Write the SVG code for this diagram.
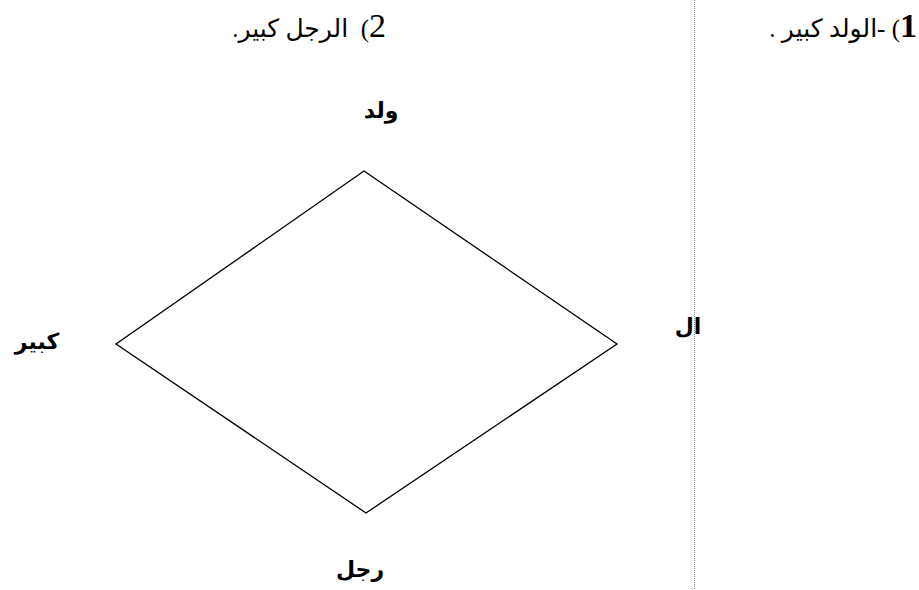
<svg xmlns="http://www.w3.org/2000/svg" width="919" height="590" viewBox="0 0 919 590">
<style>
.t{font-family:"Liberation Serif","DejaVu Sans",serif;fill:#000;font-size:25px;}
.ar{font-family:"DejaVu Sans","Liberation Serif",serif;font-size:22px;fill:#000;font-weight:bold;}
.edge{fill:none;stroke:#000;stroke-width:1.3;}
</style>
<rect width="919" height="590" fill="#fff"/>
<g id="divider"><line x1="694.5" y1="0" x2="694.5" y2="590" stroke="#888" stroke-width="1" stroke-dasharray="1,1"/></g>
<g id="heading1"><text class="t" x="917" y="37" direction="rtl" unicode-bidi="embed" text-anchor="start"><tspan font-size="34" font-weight="bold">1</tspan>)&#160;-الولد كبير .</text></g>
<g id="heading2"><text class="t" x="386" y="37" direction="rtl" unicode-bidi="embed" text-anchor="start"><tspan font-size="34">2</tspan>)&#160;&#160;الرجل كبير.</text></g>
<g id="connectors">
<polygon class="edge" points="364,171 617,344 366,513 116,344"/>
</g>
<g id="n-walad"><text class="ar" x="381" y="118" text-anchor="middle">ولد</text></g>
<g id="n-kabir"><text class="ar" x="37" y="349" text-anchor="middle">كبير</text></g>
<g id="n-al"><text class="ar" x="688" y="334" text-anchor="middle">ال</text></g>
<g id="n-rajul"><text class="ar" x="360" y="577" text-anchor="middle">رجل</text></g>
</svg>
